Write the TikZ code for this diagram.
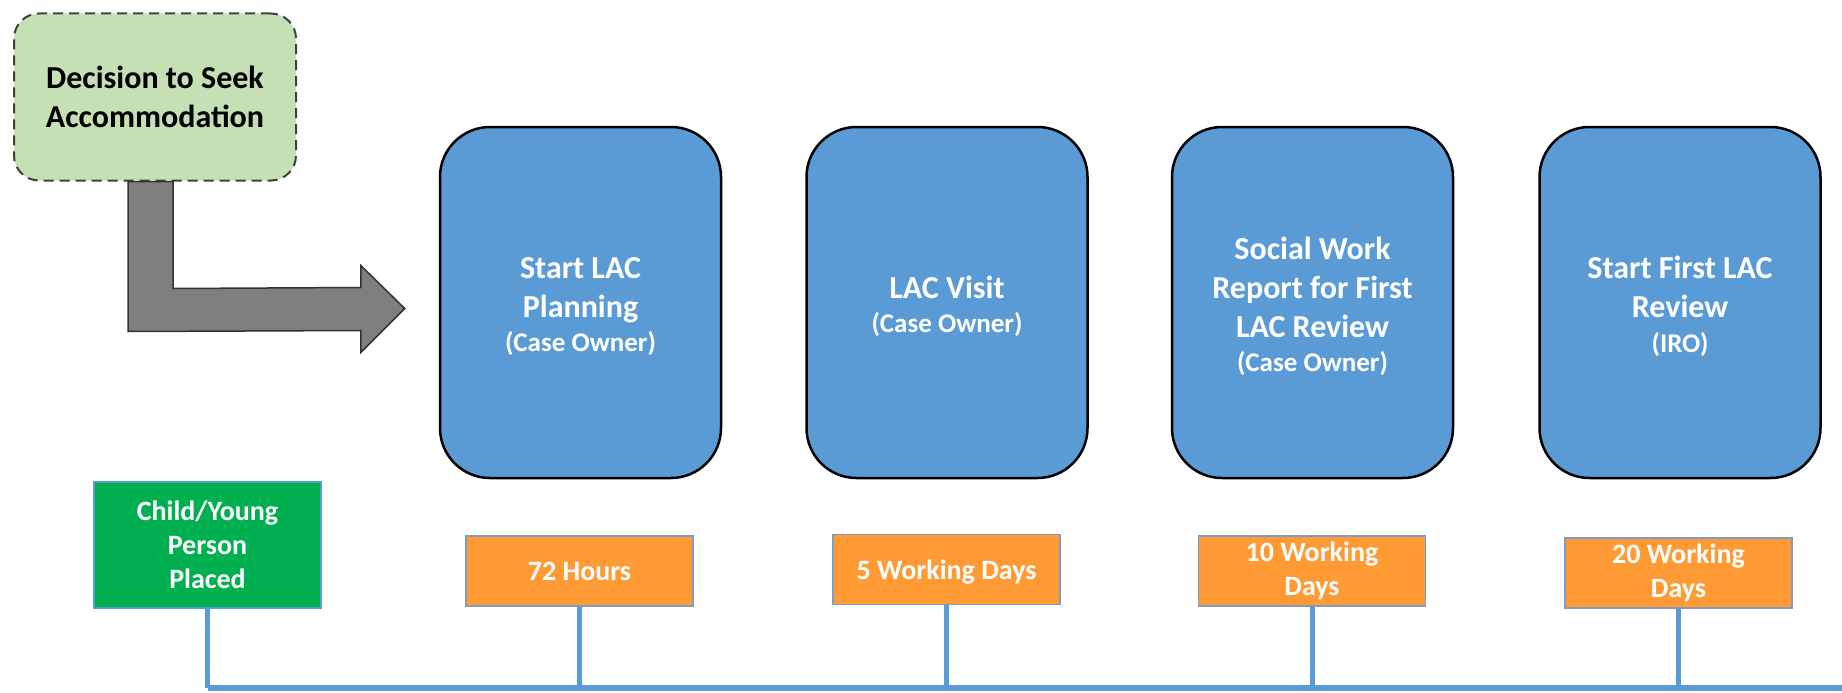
\documentclass[tikz,border=0pt]{standalone}
\usepackage{fontspec}
\setmainfont{Carlito}
\usetikzlibrary{calc}
\definecolor{stageblue}{HTML}{5B9BD5}
\definecolor{decgreen}{HTML}{C5E0B4}
\definecolor{placedgreen}{HTML}{00B050}
\definecolor{timeorange}{HTML}{FF9A35}
\definecolor{arrowgrey}{HTML}{7F7F7F}
\definecolor{frameblue}{HTML}{7F9CC0}
\tikzset{
  decision/.style={draw=black!75, line width=2pt, dash pattern=on 10pt off 6pt,
    fill=decgreen, rounded corners=25pt, minimum width=282pt, minimum height=167pt,
    inner sep=0pt, align=center, font=\bfseries\fontsize{32}{39}\selectfont},
  stage/.style={draw=black, line width=2.5pt, fill=stageblue, rounded corners=50pt,
    minimum width=281pt, minimum height=351pt, inner sep=0pt},
  stagetext/.style={align=center, inner sep=0pt, yshift=-4pt,
    text=white, font=\bfseries\fontsize{32}{39}\selectfont},
  placed/.style={draw=stageblue, line width=1.5pt, fill=placedgreen,
    minimum width=227pt, minimum height=126pt, inner sep=0pt, align=center,
    text=white, font=\bfseries\fontsize{28}{34}\selectfont},
  deadline/.style={draw=frameblue, line width=1.5pt, fill=timeorange,
    minimum width=227pt, minimum height=70pt, inner sep=0pt, align=center,
    text=white, font=\bfseries\fontsize{28}{34}\selectfont},
  timeline/.style={draw=stageblue, line width=6pt},
  tick/.style={draw=stageblue, line width=5pt},
  bentarrow/.style={fill=arrowgrey, draw=black!80, line width=1.5pt, line join=miter}
}
\newcommand{\owner}[1]{\\[-4.5pt]{\fontsize{27}{37}\selectfont #1}}
\begin{document}
\begin{tikzpicture}[x=1pt,y=-1pt]
\useasboundingbox (0,0) rectangle (1842,693);

% starting decision
\node[decision] (dec) at (155,97) {Decision to Seek\\Accommodation};

% process stages
\node[stage, label={[stagetext]center:Start LAC\\Planning\owner{(Case Owner)}}]
  (s1) at (580.5,302.5) {};
\node[stage, label={[stagetext]center:LAC Visit\owner{(Case Owner)}}]
  (s2) at (947,302.5) {};
\node[stage, label={[stagetext]center:Social Work\\Report for First\\LAC Review\owner{(Case Owner)}}]
  (s3) at (1312.5,302.5) {};
\node[stage, label={[stagetext]center:Start First LAC\\Review\owner{(IRO)}}]
  (s4) at (1680,302.5) {};

% bent block arrow from the decision to the first stage
\draw[bentarrow]
  ($(dec.south)+(-27,0)$) -- ($(dec.south)+(18,0)$)
  -- ($(dec.south)+(18,107)$) -- ($(s1.west)+(-78,-15)$)
  -- ($(s1.west)+(-78,-37)$) -- ($(s1.west)+(-34,6)$)
  -- ($(s1.west)+(-78,50)$) -- ($(s1.west)+(-78,28)$)
  -- ($(dec.south)+(-27,150)$) -- cycle;

% timeline markers
\node[placed] (placed) at (207.5,545) {Child/Young\\Person\\Placed};
\node[deadline] (d1) at (579.5,571) {72 Hours};
\node[deadline, text depth=0pt] (d2) at (946.5,569.5) {5 Working Days};
\node[deadline] (d3) at (1312,571) {10 Working\\Days};
\node[deadline] (d4) at (1678.5,573) {20 Working\\Days};

% timeline
\coordinate (tlend) at (1842,688);
\draw[timeline] (placed.south |- tlend) -- (tlend);
\foreach \n in {placed,d1,d2,d3,d4}
  \draw[tick] (\n.south) -- (\n.south |- tlend);
\end{tikzpicture}
\end{document}
